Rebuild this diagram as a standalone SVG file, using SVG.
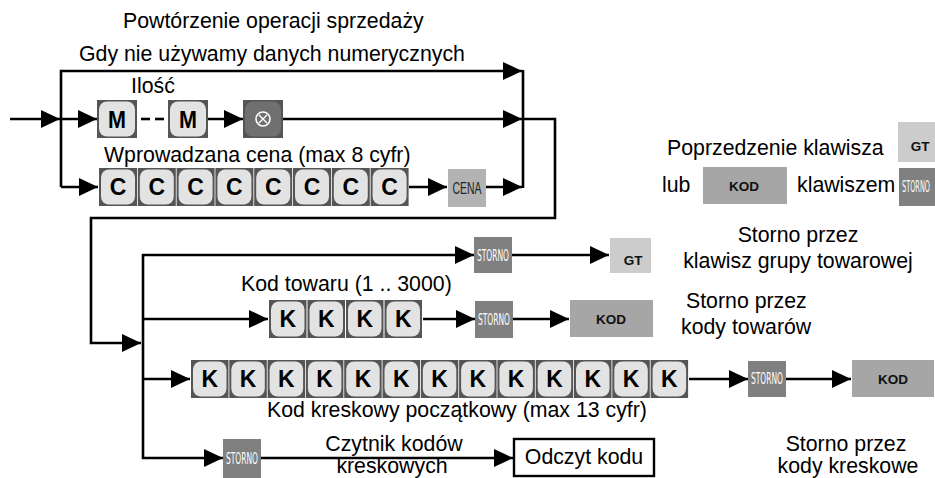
<svg xmlns="http://www.w3.org/2000/svg" width="935" height="478" viewBox="0 0 935 478">
<defs>
<style>
.t{font-family:"Liberation Sans",Arial,sans-serif;font-size:21.3px;fill:#000}
.ln{fill:none;stroke:#000;stroke-width:2.6}
.kout{fill:#555}
.kin{fill:#e3e3e3}
.kl{font-family:"Liberation Sans",Arial,sans-serif;font-weight:bold;font-size:23px;fill:#000;text-anchor:middle}
.sto{fill:#808080}
.stt{font-family:"Liberation Sans Narrow","DejaVu Sans Condensed","Liberation Sans",sans-serif;font-size:15px;fill:#fff;text-anchor:middle}
.gt{fill:#cccccc}
.kod{fill:#a6a6a6}
.bl{font-family:"Liberation Sans",Arial,sans-serif;font-weight:bold;font-size:13.5px;fill:#111;text-anchor:middle}
</style>
<marker id="ah" markerUnits="userSpaceOnUse" markerWidth="19" markerHeight="18" refX="19" refY="9" orient="auto">
<path d="M0,0 L19,9 L0,18 z" fill="#000"/>
</marker>
<g id="keyC"><rect class="kout" x="0" y="0" width="38" height="38"/><rect class="kin" x="2" y="1.5" width="34" height="35" rx="8"/><text class="kl" x="19" y="27">C</text></g>
<g id="keyK"><rect class="kout" x="0" y="0" width="37.5" height="38"/><rect class="kin" x="2" y="1.5" width="33.5" height="35" rx="8"/><text class="kl" x="18.75" y="27">K</text></g>
</defs>

<g id="labels">
<text class="t" x="123" y="28">Powtórzenie operacji sprzedaży</text>
<text class="t" x="79" y="61">Gdy nie używamy danych numerycznych</text>
<text class="t" x="131" y="93">Ilość</text>
<text class="t" x="104" y="162">Wprowadzana cena (max 8 cyfr)</text>
<text class="t" x="241" y="291">Kod towaru (1 .. 3000)</text>
<text class="t" x="267" y="417">Kod kreskowy początkowy (max 13 cyfr)</text>
<text class="t" x="394" y="451" text-anchor="middle">Czytnik kodów</text>
<text class="t" x="392" y="473" text-anchor="middle">kreskowych</text>
<text class="t" x="798" y="242" text-anchor="middle">Storno przez</text>
<text class="t" x="798" y="268" text-anchor="middle">klawisz grupy towarowej</text>
<text class="t" x="686" y="308">Storno przez</text>
<text class="t" x="681" y="334">kody towarów</text>
<text class="t" x="846" y="451" text-anchor="middle">Storno przez</text>
<text class="t" x="848" y="473" text-anchor="middle">kody kreskowe</text>
<text class="t" x="667" y="155">Poprzedzenie klawisza</text>
<text class="t" x="662" y="192">lub</text>
<text class="t" x="797" y="192">klawiszem</text>
</g>

<g id="connectors">
<line class="ln" x1="10" y1="119" x2="60" y2="119" marker-end="url(#ah)"/>
<polyline class="ln" points="61,187 61,71 522,71" marker-end="url(#ah)"/>
<line class="ln" x1="61" y1="119" x2="97" y2="119" marker-end="url(#ah)"/>
<line class="ln" x1="61" y1="187" x2="98" y2="187" marker-end="url(#ah)"/>
<line class="ln" x1="141" y1="119" x2="150" y2="119"/>
<line class="ln" x1="155" y1="119" x2="164" y2="119"/>
<line class="ln" x1="208" y1="119" x2="243" y2="119" marker-end="url(#ah)"/>
<line class="ln" x1="283" y1="119" x2="522" y2="119" marker-end="url(#ah)"/>
<line class="ln" x1="409" y1="187" x2="447" y2="187" marker-end="url(#ah)"/>
<line class="ln" x1="486" y1="187" x2="522" y2="187" marker-end="url(#ah)"/>
<line class="ln" x1="523" y1="70" x2="523" y2="188"/>
<polyline class="ln" points="523,119 555,119 555,218 91,218 91,343 141,343" marker-end="url(#ah)"/>
<line class="ln" x1="143" y1="254" x2="143" y2="459"/>
<line class="ln" x1="142" y1="255" x2="474" y2="255" marker-end="url(#ah)"/>
<line class="ln" x1="512" y1="255" x2="609" y2="255" marker-end="url(#ah)"/>
<line class="ln" x1="143" y1="319" x2="268" y2="319" marker-end="url(#ah)"/>
<line class="ln" x1="423" y1="319" x2="475" y2="319" marker-end="url(#ah)"/>
<line class="ln" x1="513" y1="319" x2="569" y2="319" marker-end="url(#ah)"/>
<line class="ln" x1="143" y1="379" x2="190" y2="379" marker-end="url(#ah)"/>
<line class="ln" x1="689" y1="379" x2="748" y2="379" marker-end="url(#ah)"/>
<line class="ln" x1="786" y1="379" x2="851" y2="379" marker-end="url(#ah)"/>
<line class="ln" x1="142" y1="458" x2="223" y2="458" marker-end="url(#ah)"/>
<line class="ln" x1="261" y1="458" x2="513" y2="458" marker-end="url(#ah)"/>
</g>

<g id="keys-M">
<rect class="kout" x="97" y="100" width="40" height="38"/><rect class="kin" x="99" y="101.5" width="36" height="35" rx="8"/>
<text class="kl" x="117" y="128" font-size="25" textLength="18" lengthAdjust="spacingAndGlyphs">M</text>
<rect class="kout" x="168" y="100" width="40" height="38"/><rect class="kin" x="170" y="101.5" width="36" height="35" rx="8"/>
<text class="kl" x="188" y="128" font-size="25" textLength="18" lengthAdjust="spacingAndGlyphs">M</text>
</g>
<g id="key-x">
<rect class="kout" x="243" y="100" width="40" height="38"/><rect x="245" y="101.5" width="36" height="35" rx="8" fill="#707070"/>
<circle cx="263" cy="119" r="7" fill="none" stroke="#fff" stroke-width="1.6"/>
<path d="M259,115 L267,123 M267,115 L259,123" stroke="#fff" stroke-width="1.4"/>
</g>
<g id="keys-C">
<use href="#keyC" x="99" y="168"/><use href="#keyC" x="137.8" y="168"/><use href="#keyC" x="176.6" y="168"/><use href="#keyC" x="215.4" y="168"/>
<use href="#keyC" x="254.2" y="168"/><use href="#keyC" x="293" y="168"/><use href="#keyC" x="331.8" y="168"/><use href="#keyC" x="370.6" y="168"/>
</g>
<g id="key-cena">
<rect x="448" y="169" width="38" height="38" fill="#b3b3b3"/>
<text x="467" y="194" font-family="'Liberation Sans',sans-serif" font-size="16" fill="#222" text-anchor="middle" textLength="29" lengthAdjust="spacingAndGlyphs">CENA</text>
</g>

<g id="row1">
<rect class="sto" x="474" y="237" width="38" height="36"/><text class="stt" x="493" y="261" textLength="32" lengthAdjust="spacingAndGlyphs">STORNO</text>
<rect class="gt" x="610" y="238" width="41" height="35"/><text class="bl" x="633" y="265">GT</text>
</g>
<g id="row2">
<use href="#keyK" x="269" y="300"/><use href="#keyK" x="307.5" y="300"/><use href="#keyK" x="346" y="300"/><use href="#keyK" x="384.5" y="300"/>
<rect class="sto" x="475" y="301" width="38" height="37"/><text class="stt" x="494" y="325" textLength="32" lengthAdjust="spacingAndGlyphs">STORNO</text>
<rect class="kod" x="570" y="300" width="83" height="37"/><text class="bl" x="611" y="324">KOD</text>
</g>
<g id="row3">
<use href="#keyK" x="191" y="360"/><use href="#keyK" x="229.3" y="360"/><use href="#keyK" x="267.6" y="360"/><use href="#keyK" x="305.9" y="360"/>
<use href="#keyK" x="344.2" y="360"/><use href="#keyK" x="382.5" y="360"/><use href="#keyK" x="420.8" y="360"/><use href="#keyK" x="459.1" y="360"/>
<use href="#keyK" x="497.4" y="360"/><use href="#keyK" x="535.7" y="360"/><use href="#keyK" x="574" y="360"/><use href="#keyK" x="612.3" y="360"/>
<use href="#keyK" x="650.6" y="360"/>
<rect class="sto" x="748" y="361" width="38" height="36"/><text class="stt" x="767" y="384" textLength="32" lengthAdjust="spacingAndGlyphs">STORNO</text>
<rect class="kod" x="852" y="360" width="82" height="37"/><text class="bl" x="893" y="384">KOD</text>
</g>
<g id="row4">
<rect class="sto" x="223" y="439" width="38" height="39"/><text class="stt" x="242" y="464" textLength="32" lengthAdjust="spacingAndGlyphs">STORNO</text>
<rect x="514" y="439" width="140" height="37" fill="#fff" stroke="#000" stroke-width="2.4"/>
<text class="t" x="584" y="464" text-anchor="middle">Odczyt kodu</text>
</g>
<g id="legend">
<rect class="gt" x="898" y="122" width="37" height="40"/><text class="bl" x="920" y="151">GT</text>
<rect class="kod" x="703" y="167" width="84" height="37"/><text class="bl" x="744" y="191">KOD</text>
<rect class="sto" x="899" y="168" width="36" height="38"/><text class="stt" x="916" y="192" textLength="28" lengthAdjust="spacingAndGlyphs">STORNO</text>
</g>
</svg>
